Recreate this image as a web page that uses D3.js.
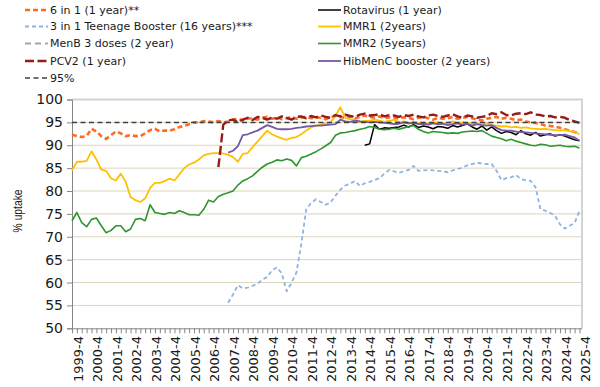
<!DOCTYPE html>
<html>
<head>
<meta charset="utf-8">
<script src="https://cdn.jsdelivr.net/npm/d3@7"></script>
<style>
    body { margin: 0; background: #fff; }
    svg { display: block; }
</style>
</head>
<body>
<div id="graph-container"></div>
<script>
// Data_________________________________________________________________
const quarters = [];
for (let y = 1999; y <= 2025; y++) for (let q = 1; q <= 4; q++) quarters.push(`${y}-${q}`);
const categories = quarters.slice(3); // 1999-4 ... 2025-4
const yTicks = [50, 55, 60, 65, 70, 75, 80, 85, 90, 95, 100];
const target = 95;

const sixInOne = [
    92.3, 92.0, 91.8, 92.0, 93.6, 93.0, 92.0, 91.4, 92.2, 93.0,
    92.6, 92.0, 92.2, 92.0, 92.0, 92.6, 93.3, 93.6, 93.0, 93.2,
    93.2, 93.5, 94.0, 94.2, 94.6, 95.0, 95.0, 95.3, 95.2, 95.0,
    95.3, 95.0, 95.2, 95.6, 95.8, 95.4, 95.8, 95.9, 95.6, 96.0,
    96.2, 95.8, 96.1, 95.7, 95.9, 96.2, 95.8, 96.0, 96.3, 95.9,
    96.1, 96.0, 95.7, 96.1, 96.4, 96.2, 96.0, 96.3, 95.9, 96.2,
    96.5, 96.2, 96.0, 96.3, 95.9, 96.1, 96.0, 95.8, 96.1, 96.0,
    95.7, 96.0, 96.2, 95.9, 95.6, 96.0, 95.8, 95.9, 96.2, 95.8,
    96.0, 96.2, 95.9, 95.6, 95.4, 95.8, 96.0, 96.2, 95.8, 96.0,
    95.8, 95.5, 95.6, 95.2, 95.0, 94.9, 94.6, 94.3, 94.2, 94.1,
    93.8, 93.5, 93.2, 92.9, 92.5
];
const rotaStart = '2014-4';
const rotavirus = [
    90.0, 90.3, 94.5, 93.5, 93.8, 93.7, 93.9, 94.0, 94.4, 94.0,
    94.5, 93.9, 94.2, 94.0, 93.6, 94.1, 94.0, 93.7, 94.3, 94.0,
    94.3, 94.7, 94.0, 93.5, 94.2, 93.3, 94.0, 93.2, 92.6, 93.0,
    92.8, 92.3, 93.2, 92.5, 92.2, 92.8, 92.0, 92.3, 92.5, 92.0,
    92.3, 92.0, 91.6, 91.2, 91.0
];
const boosterStart = '2007-4';
const booster = [
    55.6, 57.4, 59.4, 58.7, 58.9, 59.3, 59.7, 60.6, 61.2, 62.7,
    63.3, 62.0, 58.1, 60.0, 62.2, 68.5, 76.0, 77.4, 78.2, 77.6,
    77.0, 77.5, 79.0, 80.3, 81.2, 81.6, 82.2, 81.1, 81.7, 82.0,
    82.4, 82.8, 83.8, 84.6, 84.3, 84.0, 84.3, 84.6, 85.5, 84.4,
    84.5, 84.6, 84.5, 84.4, 84.3, 84.1, 84.5, 84.8, 85.1, 85.6,
    85.9, 86.2, 86.0, 85.9, 85.9, 84.4, 82.4, 82.8, 83.0, 83.5,
    82.6, 82.4, 82.2, 80.8, 76.0, 75.7, 75.2, 74.6, 72.7, 71.8,
    72.4, 73.0, 75.7
];
const mmr1 = [
    84.5, 86.4, 86.4, 86.6, 88.7, 86.9, 84.7, 84.4, 82.8, 82.3,
    83.8, 82.0, 78.7, 78.0, 77.6, 78.4, 80.7, 81.8, 81.8, 82.2,
    82.7, 82.3, 83.6, 85.0, 85.8, 86.2, 86.9, 87.8, 88.1, 88.3,
    88.3, 88.2, 87.9, 87.4, 86.4, 88.1, 88.3, 89.6, 90.8, 92.0,
    93.2, 92.4, 91.9, 91.5, 91.2, 91.6, 91.8, 92.4, 93.2, 93.9,
    94.3, 94.5, 94.7, 95.0, 96.5, 98.3, 96.0, 95.7, 95.6, 95.1,
    95.3, 95.4, 95.6, 95.4, 95.1, 95.3, 95.6, 95.0, 95.2, 94.9,
    95.1, 94.8, 95.0, 94.7, 94.9, 95.0, 94.7, 94.9, 95.2, 94.8,
    95.0, 94.9, 94.6, 94.7, 94.5, 94.8, 94.4, 94.3, 94.1, 94.2,
    93.9, 94.0, 93.8, 93.9, 93.7, 93.6, 93.5, 93.6, 93.4, 93.3,
    93.2, 93.3, 93.1, 92.9, 92.4
];
const menBStart = '2025-4';
const menB = [null];
const mmr2 = [
    73.5, 75.3, 73.1, 72.2, 73.8, 74.1, 72.4, 70.9, 71.4, 72.4,
    72.4, 71.1, 71.7, 73.8, 74.0, 73.5, 77.0, 75.3, 75.1, 74.9,
    75.3, 75.1, 75.7, 75.3, 74.8, 74.8, 74.7, 76.0, 78.0, 77.6,
    78.8, 79.3, 79.6, 80.0, 81.3, 82.2, 82.7, 83.3, 84.3, 85.2,
    85.9, 86.3, 86.8, 86.6, 87.0, 86.7, 85.5, 87.3, 87.6, 88.1,
    88.6, 89.2, 89.9, 90.6, 92.2, 92.7, 92.8, 93.0, 93.2, 93.5,
    93.7, 94.1, 93.9, 93.5, 93.4, 93.5, 93.7, 93.5, 93.8, 94.1,
    94.3, 93.5, 93.0, 92.7, 93.0, 92.9, 92.8, 92.6, 92.7, 92.6,
    92.9, 93.0, 93.1, 93.0, 93.2, 92.6, 92.0, 91.7, 91.4, 91.0,
    91.3, 90.9, 90.6, 90.3, 90.0, 89.9, 90.2, 90.1, 89.8, 89.9,
    90.0, 89.8, 89.7, 89.8, 89.4
];
const pcv2Start = '2007-2';
const pcv2 = [
    85.2, 94.5, 95.4, 95.6, 95.0, 95.6, 96.0, 95.5, 96.2, 96.0,
    95.6, 96.1, 95.8, 96.3, 96.0, 95.6, 96.2, 96.3, 95.9, 96.4,
    96.1, 96.5, 96.2, 96.0, 96.6, 96.3, 96.7, 96.4, 96.2, 96.7,
    96.9, 96.5, 96.6, 96.8, 96.3, 96.6, 96.5, 96.2, 96.6, 96.4,
    96.7, 96.3, 96.1, 96.5, 96.7, 96.4, 96.2, 96.5, 96.8, 96.3,
    96.0, 96.5, 96.3, 96.0, 96.2, 96.4, 97.0, 96.8, 97.2, 96.6,
    96.5, 96.9, 97.0, 96.8, 97.2, 96.7, 96.6, 96.3, 96.4, 96.1,
    96.2, 96.0, 95.5, 95.2, 94.9
];
const hibStart = '2007-4';
const hibMenC = [
    88.4, 88.8, 89.8, 92.2, 92.4, 92.8, 93.2, 93.8, 94.4, 94.0,
    93.6, 93.5, 93.5, 93.6, 93.8, 93.9, 94.1, 94.2, 94.3, 94.3,
    94.4, 94.5, 94.6, 95.6, 95.2, 95.1, 95.4, 95.2, 95.1, 95.0,
    95.1, 95.0, 94.9, 94.8, 94.6, 94.7, 95.0, 94.8, 94.9, 94.6,
    94.7, 94.5, 94.8, 94.6, 94.7, 94.4, 94.6, 94.8, 94.5, 94.7,
    94.3, 94.6, 94.4, 94.3, 94.4, 93.8, 93.3, 93.2, 93.2, 93.0,
    92.9, 92.8, 92.7, 92.6, 92.5, 92.4, 92.3, 92.2, 92.2, 92.3,
    92.0, 91.7, 91.0
];
const targetLine = categories.map(() => target);

// Series setup____________________________________________________________
const series = [
    { name: '6 in 1 (1 year)**', start: '1999-4', values: sixInOne },
    { name: 'Rotavirus (1 year)', start: rotaStart, values: rotavirus },
    { name: '3 in 1 Teenage Booster (16 years)***', start: boosterStart, values: booster },
    { name: 'MMR1 (2years)', start: '1999-4', values: mmr1 },
    { name: 'MenB 3 doses (2 year)', start: menBStart, values: menB },
    { name: 'MMR2 (5years)', start: '1999-4', values: mmr2 },
    { name: 'PCV2 (1 year)', start: pcv2Start, values: pcv2 },
    { name: 'HibMenC booster (2 years)', start: hibStart, values: hibMenC },
    { name: '95%', start: '1999-4', values: targetLine },
];
const styles = {
    '6 in 1 (1 year)**': { color: '#ff6b22', width: 2.6, dash: '5,3' },
    'Rotavirus (1 year)': { color: '#000000', width: 1.5, dash: null },
    '3 in 1 Teenage Booster (16 years)***': { color: '#8db3e2', width: 1.8, dash: '4,3' },
    'MMR1 (2years)': { color: '#ffc000', width: 1.8, dash: null },
    'MenB 3 doses (2 year)': { color: '#a6a6a6', width: 1.8, dash: '6,4' },
    'MMR2 (5years)': { color: '#2e962e', width: 1.6, dash: null },
    'PCV2 (1 year)': { color: '#961c1c', width: 2.4, dash: '9,3.5' },
    'HibMenC booster (2 years)': { color: '#7558a6', width: 1.8, dash: null },
    '95%': { color: '#404040', width: 1.5, dash: '5,3.5' },
};
const legendPos = [
    [25, 10], [318, 10], [25, 26.5], [318, 26.5], [25, 43.5],
    [318, 43.5], [25, 61], [318, 61], [25, 78],
];

// Scales________________________________________________________________
const width = 600, height = 387;
const x = d3.scalePoint().domain(categories).range([72, 579.5]);
const y = d3.scaleLinear().domain([50, 100]).range([328.3, 99.5]);

const svg = d3.select('#graph-container')
    .append('svg')
    .attr('width', width)
    .attr('height', height);

// Grid & frame__________________________________________________________
svg.append('g')
    .selectAll('line')
    .data(yTicks.filter(t => t > 50 && t < 100))
    .enter()
    .append('line')
    .attr('x1', 72).attr('x2', 582)
    .attr('y1', d => y(d)).attr('y2', d => y(d))
    .attr('stroke', '#ddd6bb')
    .attr('stroke-width', 1);

svg.append('path')
    .attr('d', `M72,${y(100)}H582V${y(50)}`)
    .attr('fill', 'none')
    .attr('stroke', '#d4d4d4')
    .attr('stroke-width', 2);

// Axes__________________________________________________________________
const yAxis = d3.axisLeft(y).tickValues(yTicks).tickSize(5).tickPadding(4);
svg.append('g')
    .attr('transform', 'translate(72,0)')
    .call(yAxis)
    .call(g => g.selectAll('.domain, line').attr('stroke', '#868686'))
    .call(g => g.selectAll('text')
        .attr('font-family', 'DejaVu Sans')
        .attr('font-size', 14)
        .attr('fill', '#1a1a1a'));

const xAxis = d3.axisBottom(x).tickSize(5).tickFormat('');
svg.append('g')
    .attr('transform', `translate(0,${y(50)})`)
    .call(xAxis)
    .call(g => g.select('.domain').attr('d', `M72,0.5H582`))
    .call(g => g.selectAll('.domain, line').attr('stroke', '#868686'));

svg.append('g')
    .selectAll('text')
    .data(categories.filter((d, i) => i % 4 === 0))
    .enter()
    .append('text')
    .attr('transform', d => `translate(${x(d) + 6},336) rotate(-90)`)
    .attr('dy', '0.35em')
    .attr('text-anchor', 'end')
    .attr('font-family', 'DejaVu Sans')
    .attr('font-size', 13)
    .attr('fill', '#1a1a1a')
    .text(d => d);

svg.append('text')
    .attr('transform', `translate(18,${(y(50) + y(100)) / 2 - 3}) rotate(-90)`)
    .attr('text-anchor', 'middle')
    .attr('dy', '0.35em')
    .attr('font-family', 'Liberation Sans')
    .attr('font-size', 12.5)
    .attr('textLength', 43)
    .attr('lengthAdjust', 'spacingAndGlyphs')
    .attr('fill', '#1a1a1a')
    .text('% uptake');

// Lines_________________________________________________________________
const line = d3.line()
    .defined(d => d.v != null)
    .x(d => x(d.c))
    .y(d => y(d.v));

series.forEach(s => {
    const i0 = categories.indexOf(s.start);
    const pts = s.values.map((v, i) => ({ c: categories[i0 + i], v: v }));
    const st = styles[s.name];
    svg.append('path')
        .datum(pts)
        .attr('fill', 'none')
        .attr('stroke', st.color)
        .attr('stroke-width', st.width)
        .attr('stroke-dasharray', st.dash)
        .attr('stroke-linejoin', 'round')
        .attr('d', line);
});

// Legend________________________________________________________________
const legend = svg.append('g')
    .selectAll('g')
    .data(series)
    .enter()
    .append('g')
    .attr('transform', (d, i) => `translate(${legendPos[i][0]},${legendPos[i][1]})`);
legend.append('line')
    .attr('x1', 0).attr('x2', 23)
    .attr('stroke', d => styles[d.name].color)
    .attr('stroke-width', d => styles[d.name].width)
    .attr('stroke-dasharray', d => styles[d.name].dash);
legend.append('text')
    .attr('x', 25)
    .attr('dy', '0.35em')
    .attr('font-family', 'DejaVu Sans')
    .attr('font-size', 11)
    .attr('fill', '#1a1a1a')
    .text(d => d.name);
</script>
</body>
</html>
